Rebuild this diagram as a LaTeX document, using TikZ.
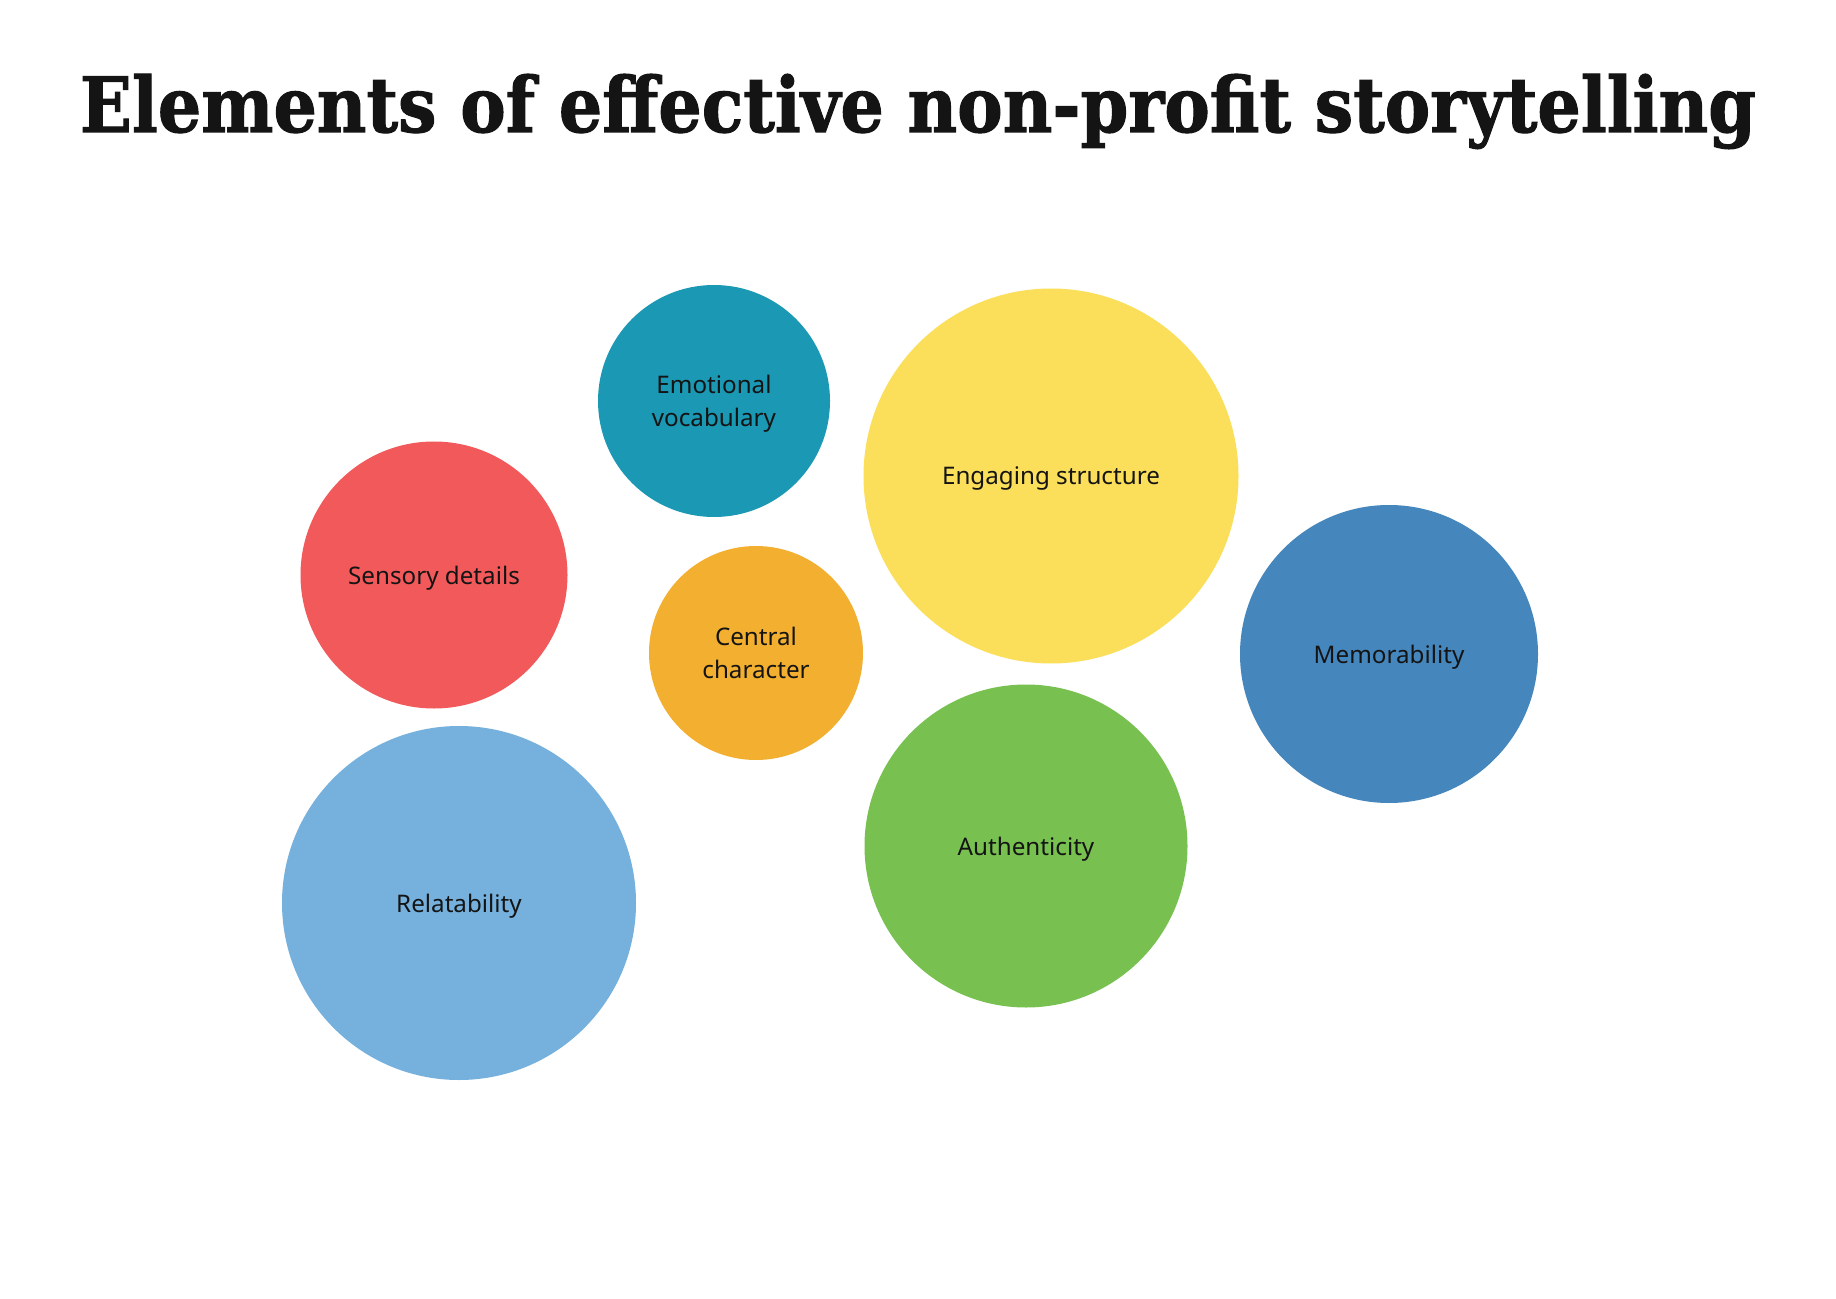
\documentclass[tikz,border=0pt]{standalone}
\usepackage{fontspec}
\usepackage{graphicx}
\setmainfont{Noto Sans}
\newfontfamily\titlefont[BoldFeatures={FakeBold=1.5}]{DejaVu Serif}
\definecolor{cteal}{HTML}{1B98B4}
\definecolor{cyellow}{HTML}{FBDF5A}
\definecolor{cred}{HTML}{F2595A}
\definecolor{corange}{HTML}{F3AF30}
\definecolor{cblue}{HTML}{4586BD}
\definecolor{clblue}{HTML}{75B1DC}
\definecolor{cgreen}{HTML}{78C151}
\definecolor{ctext}{HTML}{141414}
\tikzset{
  bubble/.style={circle, inner sep=0pt, align=center, text=ctext, text depth=0pt,
    font=\fontsize{12.1pt}{16.5pt}\selectfont},
}
\begin{document}
\begin{tikzpicture}[x=0.5pt,y=-0.5pt]
\useasboundingbox[fill=white] (0,0) rectangle (1836,1299);
\node[anchor=base, inner sep=0pt, text=ctext] (title) at (918,132)
  {\resizebox{838pt}{29pt}{\titlefont\bfseries Elements of effective non-profit storytelling}};
\node[bubble, fill=cteal, minimum size=116pt] (emo) at (714,401) {Emotional\\vocabulary};
\node[bubble, fill=cyellow, minimum size=187.5pt] (eng) at (1051,476) {Engaging structure};
\node[bubble, fill=cred, minimum size=133.5pt] (sen) at (434,575) {Sensory details};
\node[bubble, fill=corange, minimum size=107pt] (cen) at (756,653) {Central\\character};
\node[bubble, fill=cblue, minimum size=149pt] (mem) at (1389,654) {Memorability};
\node[bubble, fill=clblue, minimum size=177pt] (rel) at (459,903) {Relatability};
\node[bubble, fill=cgreen, minimum size=161.5pt] (aut) at (1026,846) {Authenticity};
\end{tikzpicture}
\end{document}
